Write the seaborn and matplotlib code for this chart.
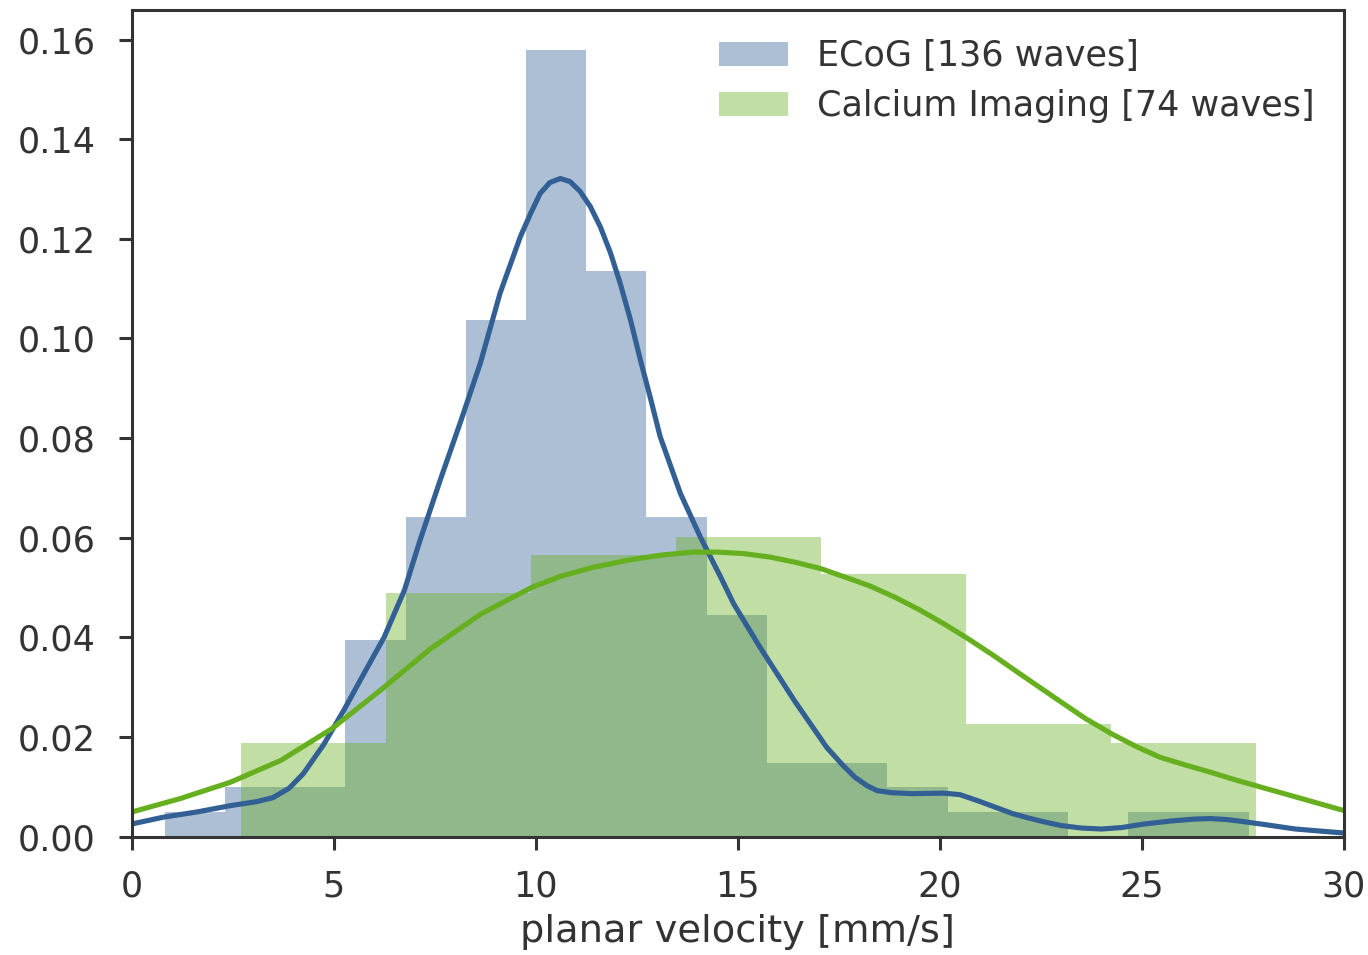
import numpy as np
import pandas as pd
import matplotlib
matplotlib.use("Agg")
import matplotlib.pyplot as plt
from matplotlib.patches import Patch
import seaborn as sns

# ---------------- data ----------------
ecog_label = "ECoG [136 waves]"
calc_label = "Calcium Imaging [74 waves]"

ecog_edges = [0.82, 2.31, 3.80, 5.29, 6.78, 8.27, 9.76, 11.25, 12.74, 14.23,
              15.72, 17.21, 18.70, 20.19, 21.68, 23.17, 24.66, 26.15, 27.64]
ecog_counts = [1, 2, 2, 8, 13, 21, 32, 23, 13, 9, 3, 3, 2, 1, 1, 0, 1, 1]

calc_edges = [2.70, 6.29, 9.88, 13.47, 17.06, 20.65, 24.24, 27.83]
calc_counts = [5, 13, 15, 16, 14, 6, 5]

ecog_kde_x = [0.0, 0.8, 1.6, 2.45, 3.1, 3.5, 3.9, 4.25, 4.75, 5.25, 5.75, 6.25,
              6.75, 7.14, 7.64, 8.13, 8.63, 9.12, 9.62, 9.87, 10.11, 10.35, 10.61,
              10.85, 11.1, 11.35, 11.6, 11.85, 12.09, 12.35, 12.59, 12.84, 13.08,
              13.58, 14.07, 14.57, 14.9, 15.55, 16.4, 17.2, 17.6, 17.9, 18.2,
              18.45, 18.8, 19.3, 20.1, 20.5, 21.0, 21.4, 21.8, 22.2, 22.6, 23.0,
              23.5, 24.0, 24.5, 25.05, 25.7, 26.3, 26.7, 27.1, 27.5, 27.95, 28.8,
              30.0]
ecog_kde_y = [0.0025, 0.0039, 0.0049, 0.0062, 0.0070, 0.0078, 0.0097, 0.0126,
              0.0184, 0.0253, 0.0327, 0.0400, 0.0494, 0.0595, 0.0716, 0.0830,
              0.0950, 0.1091, 0.1204, 0.1250, 0.1291, 0.1313, 0.1321, 0.1315,
              0.1295, 0.1265, 0.1224, 0.1172, 0.1111, 0.1036, 0.0957, 0.0880,
              0.0803, 0.0689, 0.0602, 0.0522, 0.0467, 0.0380, 0.0273, 0.0179,
              0.0143, 0.0119, 0.0102, 0.0092, 0.0088, 0.0086, 0.0087, 0.0084,
              0.0070, 0.0058, 0.0046, 0.0037, 0.0029, 0.0022, 0.0017, 0.0015,
              0.0018, 0.0025, 0.0031, 0.0035, 0.0036, 0.0034, 0.0030, 0.0025,
              0.0015, 0.0007]

calc_kde_x = [0.0, 1.2, 2.45, 3.7, 4.95, 6.15, 7.4, 8.65, 9.9, 10.6, 11.4, 12.3,
              13.1, 13.9, 14.5, 15.15, 15.8, 16.4, 17.05, 17.65, 18.3, 18.9,
              19.5, 20.1, 20.7, 21.3, 22.1, 23.0, 23.6, 24.25, 24.85, 25.45, 26.1,
              26.7, 27.3, 27.95, 29.0, 30.0]
calc_kde_y = [0.0049, 0.0076, 0.0109, 0.0153, 0.0216, 0.0293, 0.0377, 0.0447,
              0.0500, 0.0522, 0.0540, 0.0555, 0.0565, 0.0571, 0.0571, 0.0568,
              0.0561, 0.0551, 0.0538, 0.0521, 0.0502, 0.0480, 0.0455, 0.0427,
              0.0397, 0.0365, 0.0320, 0.0270, 0.0237, 0.0206, 0.0181, 0.0159,
              0.0143, 0.0129, 0.0114, 0.0099, 0.0075, 0.0052]

x_ticks = [0, 5, 10, 15, 20, 25, 30]
y_ticks = [0.00, 0.02, 0.04, 0.06, 0.08, 0.10, 0.12, 0.14, 0.16]
x_label = "planar velocity [mm/s]"

# ---------------- style ----------------
sns.set_style("ticks")
plt.rcParams["font.family"] = ["DejaVu Sans"]
blue = "#325f94"
green = "#66af1e"
text_col = "#333333"

fig = plt.figure(figsize=(13.68, 9.55), dpi=100)
ax = fig.add_axes([131.5 / 1368, 1 - 836.5 / 955, (1344 - 131.5) / 1368, (836.5 - 9.7) / 955])


def centers(edges):
    e = np.asarray(edges)
    return (e[:-1] + e[1:]) / 2


sns.histplot(x=centers(ecog_edges), weights=ecog_counts, bins=ecog_edges,
             stat="density", color=blue, alpha=0.4, linewidth=0, ax=ax)
sns.lineplot(x=ecog_kde_x, y=ecog_kde_y, color=blue, linewidth=3.7, ax=ax,
             legend=False, sort=False)
sns.histplot(x=centers(calc_edges), weights=calc_counts, bins=calc_edges,
             stat="density", color=green, alpha=0.4, linewidth=0, ax=ax)
sns.lineplot(x=calc_kde_x, y=calc_kde_y, color=green, linewidth=3.7, ax=ax,
             legend=False, sort=False)

ax.set_xlim(0, 30)
ax.set_ylim(0, 0.166)
ax.set_xticks(x_ticks)
ax.set_xticklabels([str(t) for t in x_ticks])
ax.set_yticks(y_ticks)
ax.set_yticklabels([f"{t:.2f}" for t in y_ticks])
ax.set_xlabel(x_label, fontsize=27.6, color=text_col, labelpad=8)
ax.set_ylabel("")

for s in ax.spines.values():
    s.set_linewidth(2.2)
    s.set_color("#333333")
ax.tick_params(axis="both", which="major", direction="out", length=9.5, width=2.2,
               color="#333333", labelsize=25.2, labelcolor=text_col)
ax.tick_params(axis="x", pad=14)
ax.tick_params(axis="y", pad=16)

handles = [Patch(facecolor=blue, alpha=0.4, linewidth=0),
           Patch(facecolor=green, alpha=0.4, linewidth=0)]
leg = ax.legend(handles=handles, labels=[ecog_label, calc_label], loc="upper right",
                frameon=False, fontsize=25.2, handlelength=1.96, handleheight=0.68,
                handletextpad=0.83, labelspacing=0.45, borderaxespad=0.45)
for t in leg.get_texts():
    t.set_color(text_col)

fig.savefig("out.png", dpi=100)
